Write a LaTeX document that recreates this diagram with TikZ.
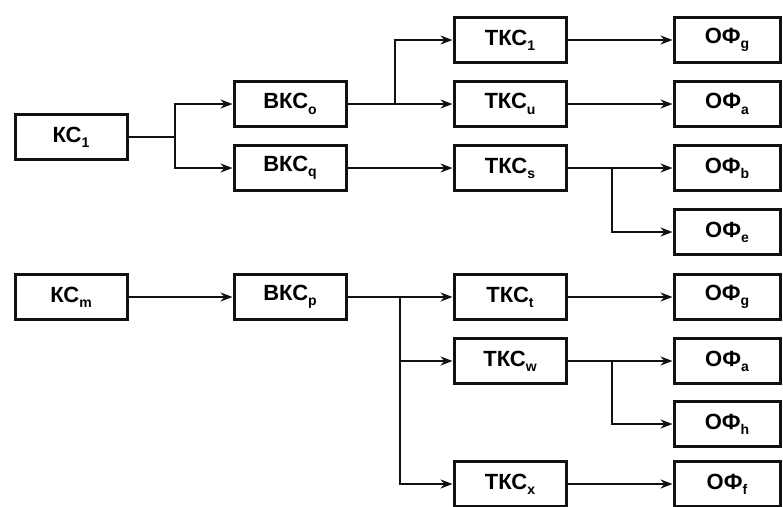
\documentclass[tikz,border=0pt]{standalone}
\usepackage{fontspec}
\setmainfont{Liberation Sans}
\usepackage{tikz}
\usetikzlibrary{arrows.meta,positioning,calc}
\definecolor{LineBlack}{HTML}{111111}
\newcommand{\idx}[1]{\raisebox{-0.45ex}{\fontsize{14}{14}\selectfont #1}}
\tikzset{
    % Base box style
    basebox/.style={
        draw=LineBlack,
        fill=white,
        line width=3pt,
        minimum height=45pt,
        minimum width=112pt,
        inner sep=0pt,
        align=center,
        font=\fontsize{22}{26}\selectfont\bfseries
    },
    % Output box (right column)
    outbox/.style={
        basebox,
        minimum width=106pt
    },
    % Plain connector
    myline/.style={
        line width=2.6pt,
        draw=LineBlack
    },
    % Connector with arrow tip
    myarrow/.style={
        myline,
        -{Stealth[length=12pt,width=9pt]}
    }
}
\begin{document}
\begin{tikzpicture}[x=1pt,y=-1pt]
        \useasboundingbox (0,0) rectangle (783,506);

        % Left column
        \node[basebox] (kc1) at (71,137) {КС\idx{1}};
        \node[basebox] (kcm) at (71,297) {КС\idx{m}};

        % Second column
        \node[basebox] (bkco) at (290,104) {ВКС\idx{o}};
        \node[basebox] (bkcq) at (290,168) {ВКС\idx{q}};
        \node[basebox] (bkcp) at (290,297) {ВКС\idx{p}};

        % Third column
        \node[basebox] (tkc1) at (510,40) {ТКС\idx{1}};
        \node[basebox] (tkcu) at (510,104) {ТКС\idx{u}};
        \node[basebox] (tkcs) at (510,168) {ТКС\idx{s}};
        \node[basebox] (tkct) at (510,297) {ТКС\idx{t}};
        \node[basebox] (tkcw) at (510,361) {ТКС\idx{w}};
        \node[basebox] (tkcx) at (510,484) {ТКС\idx{x}};

        % Right column
        \node[outbox] (of1) at (727,40) {ОФ\idx{g}};
        \node[outbox] (of2) at (727,104) {ОФ\idx{a}};
        \node[outbox] (of3) at (727,168) {ОФ\idx{b}};
        \node[outbox] (of4) at (727,232) {ОФ\idx{e}};
        \node[outbox] (of5) at (727,297) {ОФ\idx{g}};
        \node[outbox] (of6) at (727,361) {ОФ\idx{a}};
        \node[outbox] (of7) at (727,424) {ОФ\idx{h}};
        \node[outbox] (of8) at (727,484) {ОФ\idx{f}};

        % Branch points
        \coordinate (j1) at (175,137);
        \coordinate (j2) at (395,104);
        \coordinate (j3) at (612,168);
        \coordinate (j4) at (400,297);
        \coordinate (j5) at (612,361);

        % Arrows
        \draw[myline] (kc1) -- (j1);
        \draw[myarrow] (j1) |- (bkco);
        \draw[myarrow] (j1) |- (bkcq);
        \draw[myarrow] (kcm) -- (bkcp);

        \draw[myarrow] (bkco) -- (tkcu);
        \draw[myarrow] (j2) |- (tkc1);
        \draw[myarrow] (bkcq) -- (tkcs);
        \draw[myline] (bkcp) -- (j4);
        \draw[myarrow] (j4) -- (tkct);
        \draw[myarrow] (j4) |- (tkcw);
        \draw[myarrow] (j4) |- (tkcx);

        \draw[myarrow] (tkc1) -- (of1);
        \draw[myarrow] (tkcu) -- (of2);
        \draw[myarrow] (tkcs) -- (of3);
        \draw[myarrow] (j3) |- (of4);
        \draw[myarrow] (tkct) -- (of5);
        \draw[myarrow] (tkcw) -- (of6);
        \draw[myarrow] (j5) |- (of7);
        \draw[myarrow] (tkcx) -- (of8);
    \end{tikzpicture}
\end{document}
